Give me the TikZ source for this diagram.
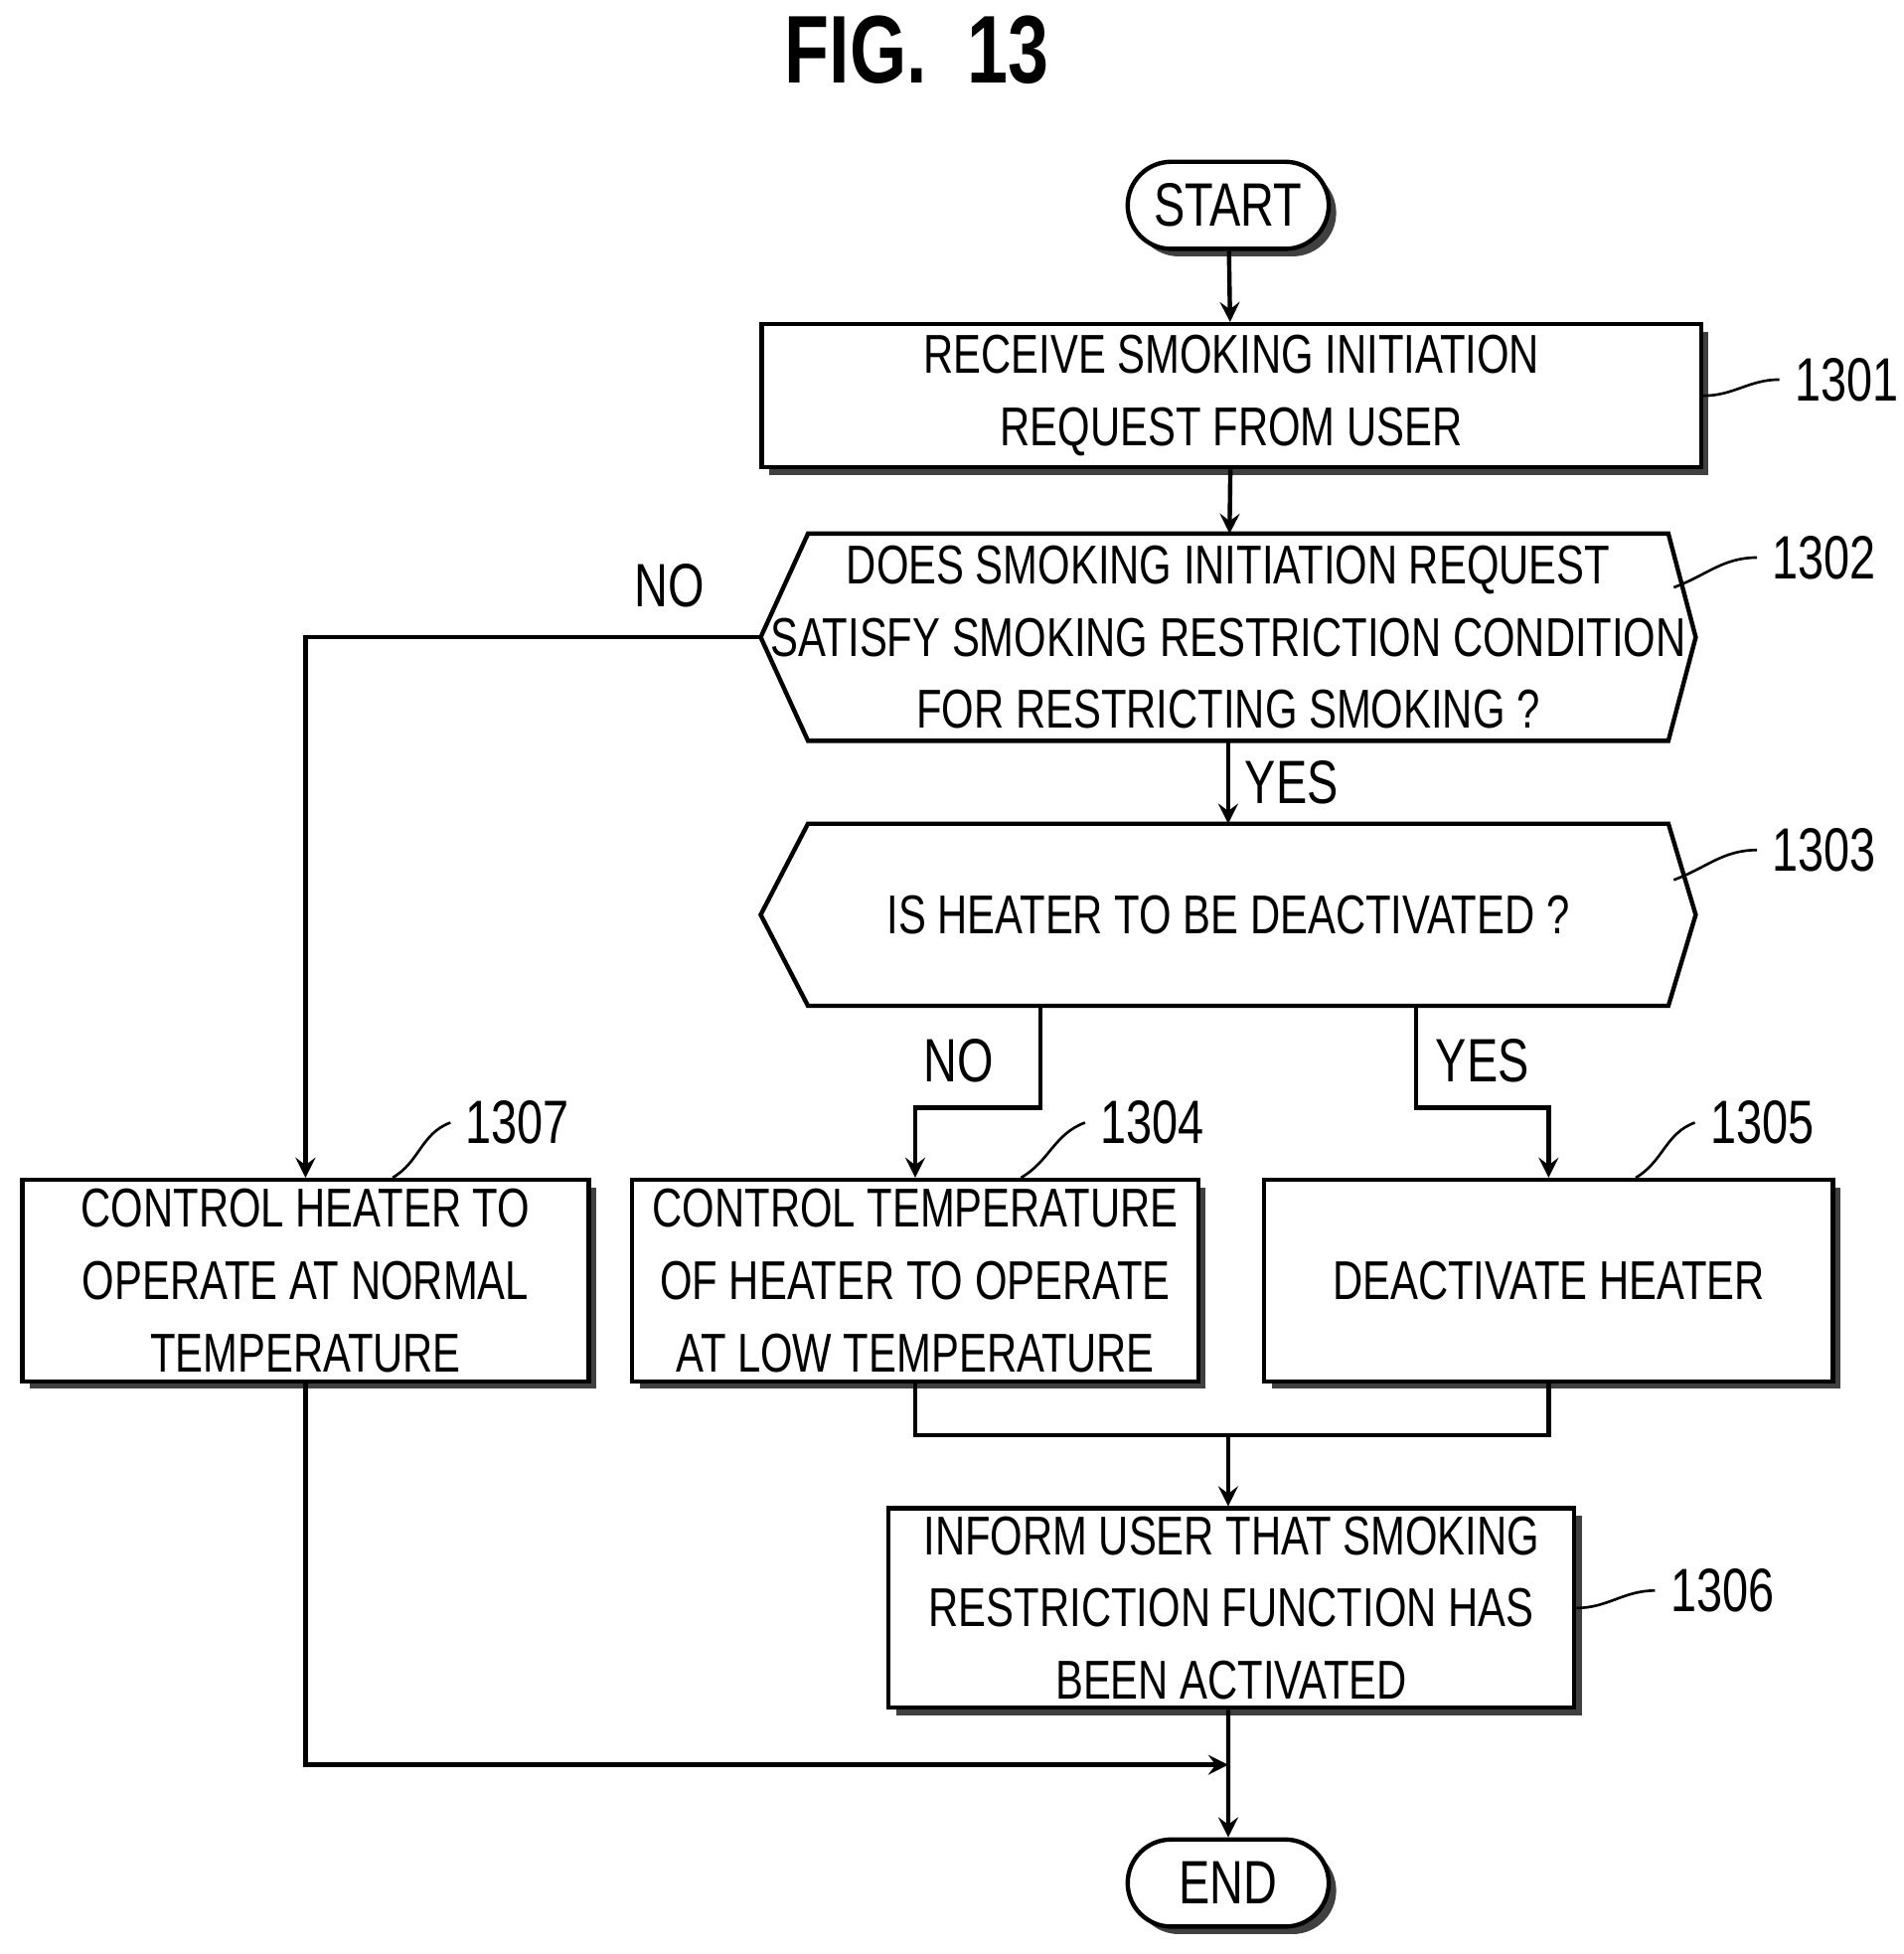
\documentclass[tikz,border=0pt]{standalone}
\usepackage{fontspec}
\setmainfont{Liberation Sans}[FakeStretch=0.76]
\usetikzlibrary{shapes,arrows,calc,shadows}
\tikzstyle{shade} = [drop shadow={shadow xshift=0.06cm, shadow yshift=-0.06cm, opacity=1, fill=black!75}]
\tikzstyle{procblock} = [rectangle, draw, fill=white, shade, line width=1pt,
    align=center, font=\fontsize{12.5}{16.5}\selectfont, inner sep=0pt]
\tikzstyle{decblock} = [rectangle, align=center, font=\fontsize{12.5}{16.5}\selectfont, inner sep=0pt]
\tikzstyle{termblock} = [rounded rectangle, draw, fill=white, shade, line width=1pt,
    minimum width=1.85cm, minimum height=0.7cm, font=\fontsize{14}{17}\selectfont]
\tikzstyle{line} = [draw, line width=1pt]
\tikzstyle{arr} = [line, -stealth]
\tikzstyle{lbl} = [font=\fontsize{14}{17}\selectfont]
\tikzstyle{lead} = [draw, line width=0.6pt]
\newcommand{\hexpath}[1]{($(#1.north west)+(0.38,0)$) -- ($(#1.north east)+(-0.22,0)$) -- (#1.east)
    -- ($(#1.south east)+(-0.22,0)$) -- ($(#1.south west)+(0.38,0)$) -- (#1.west) -- cycle}
\begin{document}
\begin{tikzpicture}
    \useasboundingbox (0,0) rectangle (15.3,15.7);
    \node [font=\bfseries\fontsize{22}{26}\selectfont] (title) at (7.37,15.3) {FIG.~~13};
    \node [termblock] (start) at (9.87,14.05) {START};
    \node [procblock, minimum width=7.55cm, minimum height=1.15cm] (b1301) at (9.895,12.52)
        {RECEIVE SMOKING INITIATION\\REQUEST FROM USER};
    \node [decblock, minimum width=7.5cm, minimum height=1.65cm] (b1302) at (9.87,10.58)
        {DOES SMOKING INITIATION REQUEST\\SATISFY SMOKING RESTRICTION CONDITION\\FOR RESTRICTING SMOKING ?};
    \node [decblock, minimum width=7.5cm, minimum height=1.45cm] (b1303) at (9.87,8.35)
        {IS HEATER TO BE DEACTIVATED ?};
    \begin{scope}[on background layer/.style={}]
    \foreach \b in {b1302,b1303} {
        \fill [black!75, xshift=0.06cm, yshift=-0.06cm] \hexpath{\b};
        \draw [fill=white, line width=1pt] \hexpath{\b};
    }
    \end{scope}
    \node [decblock, minimum width=7.5cm, minimum height=1.65cm] at (9.87,10.58)
        {DOES SMOKING INITIATION REQUEST\\SATISFY SMOKING RESTRICTION CONDITION\\FOR RESTRICTING SMOKING ?};
    \node [decblock] at (9.87,8.35) {IS HEATER TO BE DEACTIVATED ?};
    \node [procblock, minimum width=4.55cm, minimum height=1.62cm] (b1307) at (2.455,5.41)
        {CONTROL HEATER TO\\OPERATE AT NORMAL\\TEMPERATURE};
    \node [procblock, minimum width=4.55cm, minimum height=1.62cm] (b1304) at (7.355,5.41)
        {CONTROL TEMPERATURE\\OF HEATER TO OPERATE\\AT LOW TEMPERATURE};
    \node [procblock, minimum width=4.57cm, minimum height=1.62cm] (b1305) at (12.445,5.41)
        {DEACTIVATE HEATER};
    \node [procblock, minimum width=5.51cm, minimum height=1.6cm] (b1306) at (9.895,2.78)
        {INFORM USER THAT SMOKING\\RESTRICTION FUNCTION HAS\\BEEN ACTIVATED};
    \node [termblock] (end) at (9.87,0.57) {END};
    % reference numbers
    \node [lbl, anchor=west] (n1301) at (14.3,12.65) {1301};
    \node [lbl, anchor=west] (n1302) at (14.12,11.22) {1302};
    \node [lbl, anchor=west] (n1303) at (14.12,8.87) {1303};
    \node [lbl, anchor=west] (n1306) at (13.3,2.92) {1306};
    \node [lbl, anchor=west] (n1307) at (3.62,6.68) {1307};
    \node [lbl, anchor=west] (n1304) at (8.72,6.68) {1304};
    \node [lbl, anchor=west] (n1305) at (13.62,6.68) {1305};
    \draw [lead] (b1301.east) to[out=0,in=180] (n1301.west);
    \draw [lead] (13.45,10.98) to[out=20,in=180] (n1302.west);
    \draw [lead] (13.45,8.63) to[out=20,in=180] (n1303.west);
    \draw [lead] (b1306.east) to[out=0,in=180] (n1306.west);
    \draw [lead] ($(b1307.north)+(0.7,0)$) to[out=30,in=200] (n1307.west);
    \draw [lead] ($(b1304.north)+(0.85,0)$) to[out=30,in=200] (n1304.west);
    \draw [lead] ($(b1305.north)+(0.7,0)$) to[out=30,in=200] (n1305.west);
    % Draw edges
    \coordinate (c1) at (8.36,6.8);
    \coordinate (c2) at (11.38,6.8);
    \coordinate (m) at (9.87,4.17);
    \draw [arr] (start) -- (b1301);
    \draw [arr] (b1301) -- (b1302);
    \draw [arr] (b1302) -- node[lbl, right] {YES} (b1303);
    \draw [arr] (b1302.west) -- node[lbl, pos=0.2, above=3pt] {NO} (b1307.north |- b1302.west) -- (b1307.north);
    \draw [arr] (c1 |- b1303.south) -- (c1) -- node[lbl, above=2pt, pos=0.65] {NO} (b1304.north |- c1) -- (b1304.north);
    \draw [arr] (c2 |- b1303.south) -- (c2) -- node[lbl, above=2pt, pos=0.5] {YES} (b1305.north |- c2) -- (b1305.north);
    \draw [line] (b1304.south) -- (b1304.south |- m) -- (b1305.south |- m) -- (b1305.south);
    \draw [arr] (m) -- (b1306.north -| m);
    \draw [arr] (b1306.south -| m) -- (end);
    \draw [arr] (b1307.south) -- (b1307.south |- 0,1.52) -- (9.87,1.52);
 \end{tikzpicture}
\end{document}
